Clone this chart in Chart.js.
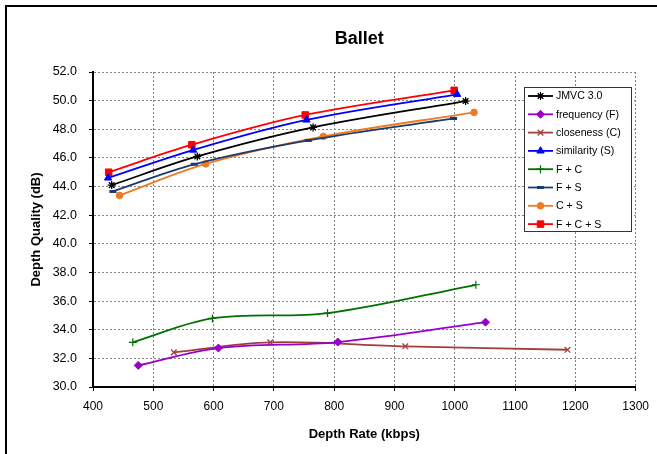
<!DOCTYPE html>
<html><head><meta charset="utf-8">
<script src="https://cdn.jsdelivr.net/npm/chart.js@4/dist/chart.umd.min.js"></script>
<style>html,body{margin:0;padding:0;background:#fff;overflow:hidden}</style>
</head><body>
<canvas id="c" width="657" height="454"></canvas>
<script>
// ---- data ----
const chartTitle = 'Ballet';
const xAxisTitle = 'Depth Rate (kbps)';
const yAxisTitle = 'Depth Quality (dB)';
const seriesNames = ['JMVC 3.0', 'frequency (F)', 'closeness (C)', 'similarity (S)', 'F + C', 'F + S', 'C + S', 'F + C + S'];

const jmvcRate = [431, 573, 765, 1018];
const jmvcQuality = [44.10, 46.10, 48.13, 49.97];

const freqRate = [475, 608, 806, 1051];
const freqQuality = [31.51, 32.72, 33.14, 34.53];

const closeRate = [534, 694, 918, 1187];
const closeQuality = [32.42, 33.12, 32.84, 32.60];

const simRate = [425, 566, 754, 1004];
const simQuality = [44.60, 46.55, 48.65, 50.44];

const fcRate = [466, 598, 789, 1035];
const fcQuality = [33.12, 34.79, 35.16, 37.14];

const fsRate = [433, 568, 757, 998];
const fsQuality = [43.66, 45.55, 47.22, 48.76];

const csRate = [444, 587, 782, 1032];
const csQuality = [43.38, 45.58, 47.50, 49.18];

const fcsRate = [426, 564, 752, 999];
const fcsQuality = [45.00, 46.92, 49.00, 50.72];

const xTickMin = 400, xTickMax = 1300, xTickStep = 100;
const yTickMin = 30, yTickMax = 52, yTickStep = 2;

// ---- build ----
const FONT = "'Liberation Sans', Arial, sans-serif";
function pts(xs, ys) { return xs.map((x, i) => ({ x: x, y: ys[i] })); }

const styles = [
  { color: '#000000', point: 'star', r: 4, bw: 1.3, fill: false },
  { color: '#9900CC', point: 'rectRot', r: 4, bw: 1, fill: true },
  { color: '#A0403C', point: 'crossRot', r: 4, bw: 1.3, fill: false },
  { color: '#0000FF', point: 'triangle', r: 4.2, bw: 1, fill: true },
  { color: '#007000', point: 'cross', r: 4, bw: 1.2, fill: false },
  { color: '#1C3A6E', point: 'line', r: 3.5, bw: 3, fill: false },
  { color: '#EE7A22', point: 'circle', r: 3.3, bw: 1, fill: true },
  { color: '#FF0000', point: 'rect', r: 4.6, bw: 1, fill: true }
];
const seriesData = [
  pts(jmvcRate, jmvcQuality), pts(freqRate, freqQuality), pts(closeRate, closeQuality),
  pts(simRate, simQuality), pts(fcRate, fcQuality), pts(fsRate, fsQuality),
  pts(csRate, csQuality), pts(fcsRate, fcsQuality)
];

const datasets = seriesNames.map((name, i) => ({
  label: name,
  data: seriesData[i],
  borderColor: styles[i].color,
  backgroundColor: styles[i].color,
  borderWidth: 1.8,
  tension: 0.35,
  pointStyle: styles[i].point,
  pointRadius: styles[i].r,
  pointHoverRadius: styles[i].r,
  pointBorderWidth: styles[i].bw,
  pointBackgroundColor: styles[i].color,
  pointBorderColor: styles[i].color
}));

const framePlugin = {
  id: 'frame',
  beforeDraw(chart) {
    const ctx = chart.ctx;
    ctx.save();
    ctx.fillStyle = '#fff';
    ctx.fillRect(0, 0, chart.width, chart.height);
    ctx.strokeStyle = '#000';
    ctx.lineWidth = 2;
    ctx.strokeRect(6, 6, chart.width + 20, chart.height + 20);
    ctx.restore();
  },
  afterDraw(chart) {
    const ctx = chart.ctx;
    const a = chart.chartArea;
    ctx.save();
    // title
    ctx.fillStyle = '#000';
    ctx.font = 'bold 18px ' + FONT;
    ctx.textAlign = 'center';
    ctx.textBaseline = 'middle';
    ctx.fillText(chartTitle, (a.left + a.right) / 2 - 5, 39);
    // legend
    const lx = 524, ly = 87, lw = 107, lh = 144;
    ctx.fillStyle = '#fff';
    ctx.fillRect(lx, ly, lw, lh);
    ctx.strokeStyle = '#333';
    ctx.lineWidth = 1;
    ctx.strokeRect(lx + 0.5, ly + 0.5, lw, lh);
    ctx.font = '10.6px ' + FONT;
    ctx.textAlign = 'left';
    ctx.textBaseline = 'middle';
    chart.data.datasets.forEach((ds, i) => {
      const y = 96 + i * 18.3;
      ctx.strokeStyle = ds.borderColor;
      ctx.lineWidth = 1.8;
      ctx.beginPath();
      ctx.moveTo(528, y);
      ctx.lineTo(553, y);
      ctx.stroke();
      const opts = {
        pointStyle: ds.pointStyle, radius: ds.pointRadius, rotation: 0,
        borderWidth: ds.pointBorderWidth
      };
      ctx.fillStyle = ds.pointBackgroundColor;
      ctx.strokeStyle = ds.pointBorderColor;
      ctx.lineWidth = ds.pointBorderWidth;
      if (Chart.helpers && Chart.helpers.drawPoint) {
        Chart.helpers.drawPoint(ctx, opts, 540.5, y);
      }
      ctx.fillStyle = '#000';
      ctx.fillText(ds.label, 556, y + 0.5);
    });
    ctx.restore();
  }
};

new Chart(document.getElementById('c'), {
  type: 'line',
  data: { datasets: datasets },
  options: {
    responsive: false,
    animation: false,
    devicePixelRatio: 1,
    layout: { padding: { top: 72, right: 18, left: 0, bottom: 0 } },
    plugins: { legend: { display: false }, tooltip: { enabled: false }, title: { display: false } },
    scales: {
      x: {
        type: 'linear',
        min: xTickMin, max: xTickMax,
        afterFit(s) { s.height = 67; },
        ticks: { stepSize: xTickStep, color: '#000', padding: 8, font: { family: FONT, size: 12 }, maxRotation: 0, autoSkip: false, callback: v => String(v) },
        grid: { color: '#808080', lineWidth: 1, tickLength: 4, tickColor: '#000' },
        border: { display: true, color: '#000', width: 2, dash: [2, 2] },
        title: { display: true, text: xAxisTitle, color: '#000', font: { family: FONT, size: 13, weight: 'bold' }, padding: { top: 0, bottom: 12 } }
      },
      y: {
        type: 'linear',
        min: yTickMin, max: yTickMax,
        afterFit(s) { s.width = 93; },
        ticks: { stepSize: yTickStep, color: '#000', padding: 12, font: { family: FONT, size: 12.5 }, callback: v => Number(v).toFixed(1) },
        grid: { color: '#808080', lineWidth: 1, tickLength: 4, tickColor: '#000' },
        border: { display: true, color: '#000', width: 2, dash: [2, 2] },
        title: { display: true, text: yAxisTitle, color: '#000', font: { family: FONT, size: 13, weight: 'bold' }, padding: { top: 29, bottom: 0 } }
      }
    }
  },
  plugins: [framePlugin]
});
</script>
</body></html>
